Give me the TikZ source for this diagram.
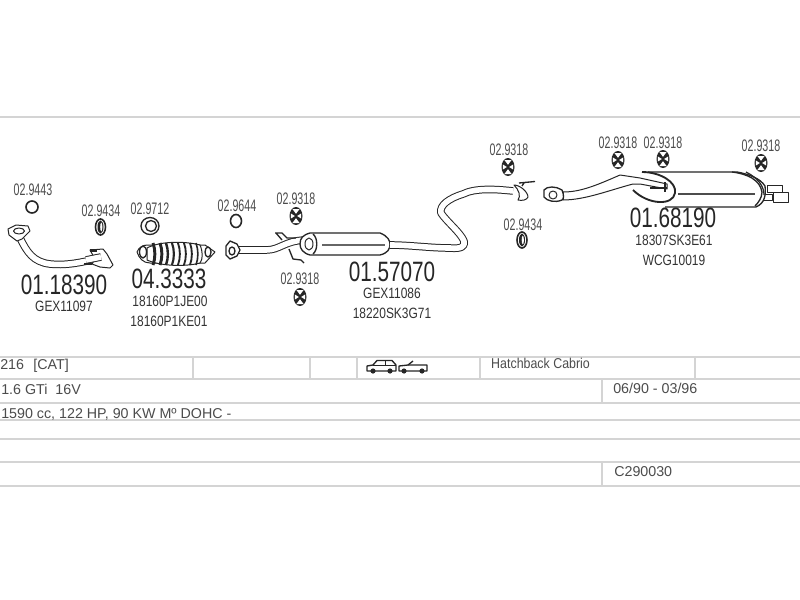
\documentclass[tikz,border=0pt]{standalone}
\usepackage{fontspec}
\setmainfont{Liberation Sans}
\tikzset{
  ink/.style={draw=black!85,line width=.75pt,line join=round},
  pipe/.style={draw=black!85,line width=.75pt,double=white,double distance=4.2pt,line cap=butt,line join=round},
  rowline/.style={draw=black!17,line width=1.3pt},
  smalllab/.style={inner sep=0pt,text=black!70,font=\fontsize{12.5}{12.5}\selectfont,xscale=.64,transform shape},
  codelab/.style={inner sep=0pt,text=black!80,font=\fontsize{11.2}{11.2}\selectfont,xscale=.8,transform shape},
  numlab/.style={inner sep=0pt,text=black!85,font=\fontsize{21}{21}\selectfont,xscale=.74,transform shape},
  rowtext/.style={inner sep=0pt,anchor=base west,text=black!70,font=\fontsize{10.7}{10.7}\selectfont},
  hangerpic/.pic={
    \fill[black!85] (0,0) ellipse[x radius=6.5,y radius=9];
    \fill[white] (0,-2.2) -- (-3.6,-7) -- (3.6,-7) -- cycle;
    \fill[white] (0,2.2) -- (-3.6,7) -- (3.6,7) -- cycle;
    \fill[white] (-1.2,0) -- (-5.2,-2.6) -- (-5.2,2.6) -- cycle;
    \fill[white] (1.2,0) -- (5.2,-2.6) -- (5.2,2.6) -- cycle;
  },
  gasketpic/.pic={
    \draw[ink,line width=1.2pt] (0,0) ellipse[x radius=5,y radius=8];
    \fill[black!85] (0,0) ellipse[x radius=3,y radius=6.5];
    \fill[white] (.8,0) ellipse[x radius=1.1,y radius=4.4];
  }
}
\begin{document}
\begin{tikzpicture}[x=.75pt,y=-.75pt]
\useasboundingbox (0,0) rectangle (800,600);
\fill[white] (0,0) rectangle (800,600);

% table rules
\foreach \yy in {117,357,379,403,420,439,462,486} \draw[rowline] (0,\yy) -- (800,\yy);
\foreach \xx in {193,310,357,480,695} \draw[rowline] (\xx,357) -- (\xx,379);
\draw[rowline] (602,379) -- (602,403);
\draw[rowline] (602,462) -- (602,486);

% table text
\node[rowtext] (t1) at (0,369) {216\hspace{7pt}[CAT]};
\node[rowtext] (t2) at (1,394) {1.6 GTi\hspace{3pt} 16V};
\node[rowtext] (t3) at (1,418) {1590 cc, 122 HP, 90 KW Mº DOHC -};
\node[rowtext,xscale=.87,transform shape] (t4) at (491,368) {Hatchback Cabrio};
\node[rowtext] (t5) at (613,393) {06/90 - 03/96};
\node[rowtext] (t6) at (614,476) {C290030};

% car icons
\draw[ink,fill=white,line width=1pt] (367,371) -- (367,366) -- (373,365) -- (377,360.5) -- (392,360.5) -- (396,365) -- (396,371) -- cycle;
\draw[ink] (373,365) -- (396,365) (385,361) -- (385,365);
\fill[black!85] (373,371) circle[radius=2.6] (390,371) circle[radius=2.6];
\draw[ink,fill=white,line width=1pt] (399,371) -- (399,366) -- (408,365) -- (427,365) -- (427,371) -- cycle;
\draw[ink,line width=1pt] (408,365) -- (413,361);
\fill[black!85] (404,371) circle[radius=2.6] (422,371) circle[radius=2.6];

% loose rings
\draw[ink,line width=1.2pt] (32,207) ellipse[x radius=6,y radius=6];
\pic at (100.5,227) {gasketpic};
\draw[ink,line width=1pt] (150,226) ellipse[x radius=9,y radius=8.5];
\draw[ink,line width=1pt] (151,226) ellipse[x radius=5.5,y radius=5.5];
\draw[ink,line width=1.2pt] (236,221) ellipse[x radius=5.5,y radius=6.5];
\pic at (522,240) {gasketpic};

% hangers
\pic at (296,216) {hangerpic};
\pic at (300,297) {hangerpic};
\pic at (508,167) {hangerpic};
\pic at (618,160) {hangerpic};
\pic at (663,159) {hangerpic};
\pic at (761,163) {hangerpic};

% front pipe 01.18390
\draw[pipe] (20,238) .. controls (27,252) and (33,262) .. (50,264) .. controls (70,266) and (85,261) .. (102,258);
\draw[ink,fill=white] (8,229) -- (16,225) -- (28,226) -- (30,231) -- (22,239) -- (17,241) -- (9,235) -- cycle;
\draw[ink] (19,231) ellipse[x radius=5.5,y radius=3];
\draw[ink,fill=white] (90,250) -- (103,249) -- (107,254) -- (113,265) -- (110,268) -- (100,267) -- (92,264) -- (95,259) -- cycle;
\draw[pipe] (86,260) -- (101,257);
\fill[black!85] (90,249) rectangle (97,252);
\fill[black!85] (84,263) rectangle (92,265);

% catalyst 04.3333
\draw[ink,fill=white] (137,252) .. controls (139,247) and (143,245) .. (148,245) -- (205,245) -- (215,252) -- (205,263) -- (150,263) .. controls (143,263) and (139,258) .. (137,252) -- cycle;
\draw[ink,fill=white] (147,248) .. controls (160,241) and (185,241) .. (200,245) .. controls (203,252) and (203,259) .. (200,263) .. controls (185,267) and (160,266) .. (147,260) -- cycle;
\foreach \xx/\dw in {153/2.2,160/2.2,166/1.8,172/1.6,178/1.4,184/1.4,190/1.4,196/1.2}
  \draw[ink,line width=\dw pt] (\xx,243) .. controls (\xx+2.5,250) and (\xx+2.5,258) .. (\xx,265);
\draw[ink,fill=white,line width=1pt] (143,252) ellipse[x radius=3.5,y radius=6];
\draw[ink,fill=white,line width=1pt] (208,252) ellipse[x radius=3,y radius=5];

% mid pipe + muffler 01.57070
\draw[pipe] (238,250) -- (266,250) .. controls (280,250) and (284,241) .. (305,240);
\draw[ink,fill=white,line width=1pt] (226,246) -- (230,241) -- (237,244) -- (240,250) -- (237,256) -- (230,259) -- (226,255) -- cycle;
\draw[ink,line width=1pt] (232,251) ellipse[x radius=3,y radius=4];
\draw[ink,line width=1pt] (275,233) -- (282,233) -- (287,238) -- (296,238) (276,233) -- (282,240);
\draw[ink,line width=1pt] (289,249) -- (293,259) -- (301,260) -- (304,263);
\draw[ink,fill=white,line width=1pt] (310,233) -- (380,233) .. controls (388,236) and (390,241) .. (390,244) .. controls (390,249) and (388,253) .. (380,255) -- (310,255) .. controls (303,253) and (300,249) .. (300,244) .. controls (300,238) and (303,235) .. (310,233) -- cycle;
\draw[ink,line width=1pt] (313,234) .. controls (318,238) and (318,250) .. (313,254);
\draw[ink,fill=white] (309,244) ellipse[x radius=4,y radius=6];
\draw[ink,black!60,line width=1pt] (322,245) -- (385,245);

% long pipe
\draw[pipe] (390,245) .. controls (410,245) and (430,248) .. (450,248) .. controls (460,249) and (466,247) .. (464,241) .. controls (460,232) and (447,222) .. (441,213) .. controls (439,205) and (450,198) .. (463,194) .. controls (475,188) and (495,189) .. (513,191);
% pipe end flange
\draw[ink,fill=white] (514,185) .. controls (520,185) and (528,192) .. (528,197) .. controls (527,200) and (522,201) .. (518,200) .. controls (521,196) and (519,190) .. (514,185) -- cycle;
\draw[ink,line width=1pt] (519,183) -- (535,181.5) (524,183) -- (522,186);

% rear muffler 01.68190
\draw[ink,fill=white] (767,185) rectangle (782,192);
\draw[ink,fill=white] (773,192) rectangle (788,202);
\draw[ink,fill=white] (763,194) rectangle (772,200);
\draw[ink,fill=white,line width=1pt] (648,172) -- (737,172) .. controls (748,174) and (760,178) .. (765,186) .. controls (766,195) and (765,203) .. (756,207) -- (665,207);
\draw[ink,line width=1pt] (732,172) .. controls (748,174) and (760,180) .. (762,192) .. controls (762,198) and (758,203) .. (755,206);
\draw[ink,line width=.9pt] (746,172) .. controls (758,178) and (764,186) .. (764,195);
\draw[ink,black!70,line width=.8pt] (678,194) -- (755,194);
\draw[ink,fill=white,line width=1.4pt] (642,172) .. controls (660,172) and (677,182) .. (675,193) .. controls (673,206) and (648,205) .. (633,190);
% inlet pipe, widening towards the muffler
\draw[ink,fill=white] (563,192) .. controls (580,192) and (595,186) .. (620,175) -- (640,178) -- (667,184) -- (667,189) -- (640,184) -- (633,184) .. controls (610,190) and (585,200) .. (563,200) -- cycle;
\draw[ink,line width=1pt] (665,182) -- (665,192) (650,188) -- (667,188);
\draw[ink,fill=white,line width=1pt] (544,190) .. controls (547,186) and (556,186) .. (562,190) .. controls (564,195) and (564,199) .. (562,200) .. controls (555,203) and (547,201) .. (544,197) -- cycle;
\draw[ink] (553,195) ellipse[x radius=4,y radius=4];

% labels
\node[smalllab] (a1) at (33,190) {02.9443};
\node[smalllab] (a2) at (101,211) {02.9434};
\node[smalllab] (a3) at (150,209) {02.9712};
\node[smalllab] (a4) at (237,206) {02.9644};
\node[smalllab] (a5) at (296,199) {02.9318};
\node[smalllab] (a6) at (300,279) {02.9318};
\node[smalllab] (a7) at (509,150) {02.9318};
\node[smalllab] (a8) at (523,225) {02.9434};
\node[smalllab] (a9) at (618,143) {02.9318};
\node[smalllab] (a10) at (663,143) {02.9318};
\node[smalllab] (a11) at (761,146) {02.9318};

\node[numlab] (n1) at (64,285) {01.18390};
\node[numlab] (n2) at (169,279) {04.3333};
\node[numlab] (n3) at (392,272) {01.57070};
\node[numlab] (n4) at (673,218) {01.68190};

\node[codelab] (c1) at (64,306) {GEX11097};
\node[codelab] (c2) at (170,301) {18160P1JE00};
\node[codelab] (c3) at (169,321) {18160P1KE01};
\node[codelab] (c4) at (392,293) {GEX11086};
\node[codelab] (c5) at (392,313) {18220SK3G71};
\node[codelab] (c6) at (674,240) {18307SK3E61};
\node[codelab] (c7) at (674,260) {WCG10019};
\end{tikzpicture}
\end{document}
